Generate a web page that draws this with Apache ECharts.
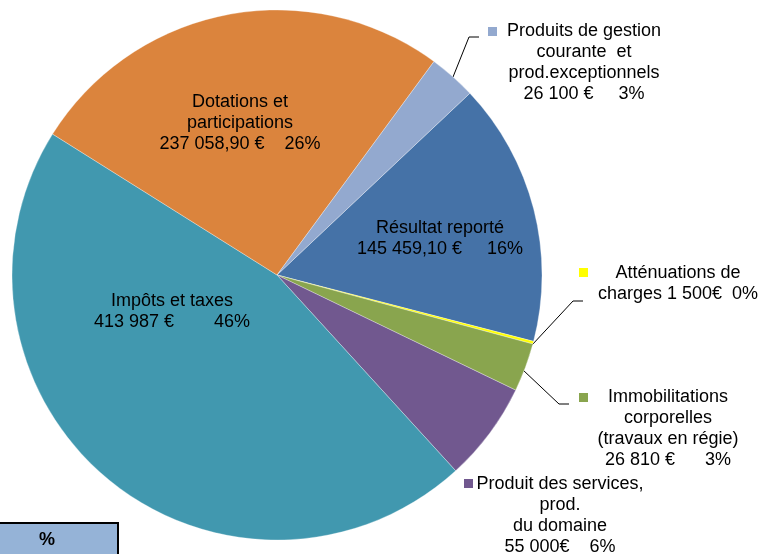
<!DOCTYPE html>
<html>
<head>
<meta charset="utf-8">
<script src="https://cdn.jsdelivr.net/npm/echarts@6/dist/echarts.min.js"></script>
<style>
  html, body { margin: 0; padding: 0; background: #fff; }
  #chart { width: 761px; height: 554px; }
</style>
</head>
<body>
<div id="chart"></div>
<script>
// slices, clockwise from the upper right
const categories = [
  'Résultat reporté',
  'Atténuations de charges',
  'Immobilitations corporelles (travaux en régie)',
  'Produit des services, prod. du domaine',
  'Impôts et taxes',
  'Dotations et participations',
  'Produits de gestion courante et prod.exceptionnels'
]
const amounts = [145459.10, 1500, 26810, 55000, 413987, 237058.90, 26100]
const labelTexts = [
  'Résultat reporté\n145 459,10 €     16%',
  'Atténuations de\ncharges 1 500€  0%',
  'Immobilitations\ncorporelles\n(travaux en régie)\n26 810 €      3%',
  'Produit des services,\nprod.\ndu domaine\n55 000€    6%',
  'Impôts et taxes\n413 987 €        46%',
  'Dotations et\nparticipations\n237 058,90 €    26%',
  'Produits de gestion\ncourante  et\nprod.exceptionnels\n26 100 €     3%'
]
const sliceColors = ['#4572A7', '#FFFF00', '#89A54E', '#71588F', '#4198AF', '#DB843D', '#93A9CF']

// where each label sits (center x, top y) and its leader line
const labelSpots = [
  { x: 440, y: 218, inside: true },
  { x: 678, y: 263, line: [[532, 345], [573, 301], [583, 301]] },
  { x: 668, y: 387, line: [[523, 370], [559, 404], [569, 404]] },
  { x: 560, y: 474 },
  { x: 172, y: 291, inside: true },
  { x: 240, y: 92, inside: true },
  { x: 584, y: 21, line: [[453, 77], [469, 37], [479, 37]] }
]
// legend keys next to the outside labels
const keySpots = [
  { i: 6, x: 488, y: 27 },
  { i: 1, x: 579, y: 268 },
  { i: 2, x: 579, y: 393 },
  { i: 3, x: 464, y: 479 }
]

const font = "'Liberation Sans', Arial, sans-serif"
const chart = echarts.init(document.getElementById('chart'))

const seriesData = categories.map((name, i) => {
  const spot = labelSpots[i]
  return {
    name,
    value: amounts[i],
    itemStyle: { color: sliceColors[i] },
    label: {
      show: true,
      position: spot.inside ? 'inside' : 'outside',
      formatter: labelTexts[i]
    },
    labelLine: { show: !!spot.line }
  }
})

const option = {
  backgroundColor: '#ffffff',
  animation: false,
  series: [
    {
      type: 'pie',
      center: [277, 275],
      radius: 265,
      startAngle: 43.3,
      clockwise: true,
      avoidLabelOverlap: false,
      data: seriesData,
      itemStyle: { borderColor: 'rgba(255,255,255,0.6)', borderWidth: 0.5 },
      label: {
        color: '#000',
        fontFamily: font,
        fontSize: 18,
        lineHeight: 21,
        align: 'center'
      },
      labelLine: {
        lineStyle: { color: '#000', width: 1 }
      },
      labelLayout: params => {
        const spot = labelSpots[params.dataIndex]
        const out = { x: spot.x, y: spot.y, align: 'center', verticalAlign: 'top' }
        if (spot.line) out.labelLinePoints = spot.line
        return out
      },
      emphasis: { disabled: true }
    }
  ],
  graphic: [
    ...keySpots.map(k => ({
      type: 'rect',
      shape: { x: k.x, y: k.y, width: 9, height: 9 },
      style: { fill: sliceColors[k.i] },
      silent: true
    })),
    {
      type: 'rect',
      shape: { x: -2, y: 523, width: 120, height: 40 },
      style: { fill: '#95B3D7', stroke: '#000', lineWidth: 2 },
      silent: true
    },
    {
      type: 'text',
      x: 47,
      y: 540,
      style: {
        text: '%',
        fill: '#000',
        font: "bold 18px 'Liberation Sans', Arial, sans-serif",
        align: 'center',
        verticalAlign: 'middle'
      },
      silent: true
    }
  ]
}

chart.setOption(option)
</script>
</body>
</html>
